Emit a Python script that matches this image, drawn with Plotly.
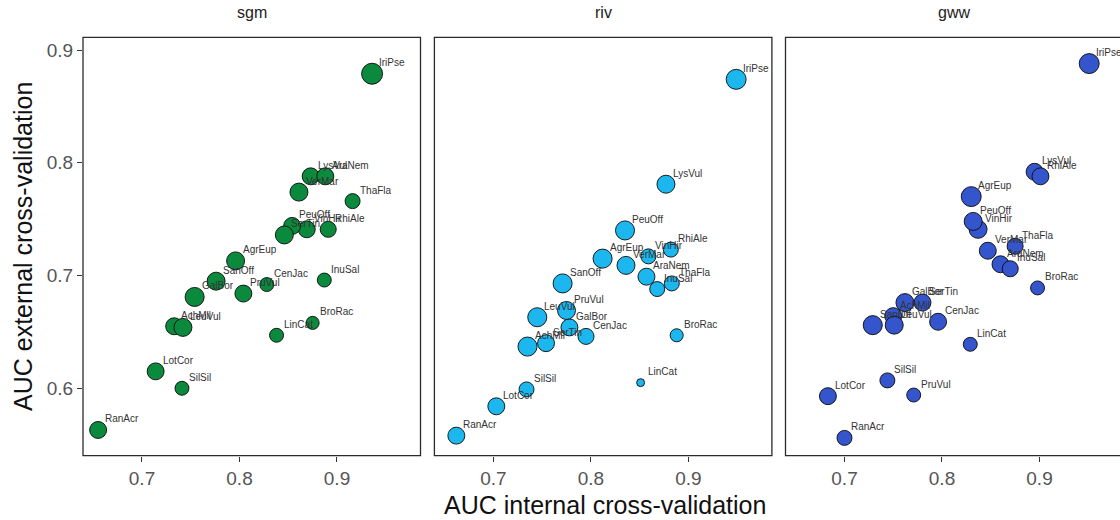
import plotly.graph_objects as go

# ---- data -------------------------------------------------------------
species = ["IriPse", "LysVul", "AraNem", "RhiAle", "VinHir", "PeuOff", "VerMar",
           "ThaFla", "AgrEup", "InuSal", "SanOff", "SerTin", "GalBor", "PruVul",
           "CenJac", "AchMil", "LeuVul", "BroRac", "LinCat", "LotCor", "SilSil",
           "RanAcr"]

regions = ["sgm", "riv", "gww"]

# AUC from internal cross-validation (x) per region
auc_int_sgm = [0.936, 0.873, 0.888, 0.891, 0.869, 0.854, 0.861, 0.916, 0.796, 0.887, 0.776,
               0.846, 0.754, 0.804, 0.828, 0.733, 0.742, 0.875, 0.838, 0.714, 0.741, 0.655]
auc_int_riv = [0.949, 0.877, 0.857, 0.882, 0.859, 0.835, 0.836, 0.883, 0.812, 0.868, 0.771,
               0.754, 0.778, 0.775, 0.795, 0.735, 0.745, 0.888, 0.851, 0.703, 0.734, 0.662]
auc_int_gww = [0.951, 0.895, 0.860, 0.901, 0.837, 0.832, 0.847, 0.875, 0.830, 0.870, 0.729,
               0.780, 0.762, 0.771, 0.796, 0.750, 0.751, 0.898, 0.829, 0.683, 0.744, 0.700]

# AUC from external cross-validation (y) per region
auc_ext_sgm = [0.879, 0.788, 0.788, 0.741, 0.741, 0.744, 0.774, 0.766, 0.713, 0.696, 0.695,
               0.736, 0.681, 0.684, 0.692, 0.655, 0.654, 0.658, 0.647, 0.615, 0.600, 0.563]
auc_ext_riv = [0.874, 0.781, 0.699, 0.723, 0.717, 0.740, 0.709, 0.693, 0.715, 0.688, 0.693,
               0.640, 0.654, 0.669, 0.646, 0.637, 0.663, 0.647, 0.605, 0.584, 0.599, 0.558]
auc_ext_gww = [0.888, 0.792, 0.710, 0.788, 0.741, 0.748, 0.722, 0.726, 0.770, 0.706, 0.656,
               0.676, 0.676, 0.594, 0.659, 0.664, 0.656, 0.689, 0.639, 0.593, 0.607, 0.556]

# relative weight of each species model (mapped to point size)
weight_sgm = [1.00, 0.73, 0.73, 0.67, 0.73, 0.73, 0.80, 0.60, 0.80, 0.53, 0.80,
              0.80, 0.87, 0.73, 0.53, 0.73, 0.80, 0.47, 0.53, 0.73, 0.53, 0.73]
weight_riv = [0.93, 0.80, 0.73, 0.60, 0.60, 0.87, 0.80, 0.60, 0.87, 0.60, 0.87,
              0.73, 0.73, 0.80, 0.67, 0.87, 0.87, 0.47, 0.13, 0.73, 0.60, 0.73]
weight_gww = [0.93, 0.73, 0.73, 0.73, 0.80, 0.80, 0.73, 0.67, 0.93, 0.67, 0.87,
              0.73, 0.80, 0.53, 0.73, 0.73, 0.80, 0.53, 0.53, 0.73, 0.60, 0.60]

x_ticks = [0.7, 0.8, 0.9]
y_ticks = [0.6, 0.7, 0.8, 0.9]

# ---- styling / layout geometry ---------------------------------------
W, H = 1120, 520
FONT = "Liberation Sans, Arial, sans-serif"
fills = {"sgm": "#0b893d", "riv": "#1bb7ee", "gww": "#3455cb"}

panel_left = [83.0, 434.4, 785.5]   # px
panel_width = 337.5                # px
panel_top, panel_bottom = 37.3, 455.7
x_lo, px_per_unit = 0.6395, 975.0
y_range = [0.5402, 0.9113]

series = {
    "sgm": (auc_int_sgm, auc_ext_sgm, weight_sgm),
    "riv": (auc_int_riv, auc_ext_riv, weight_riv),
    "gww": (auc_int_gww, auc_ext_gww, weight_gww),
}


def diameter(w):
    return 6 + 15 * w


fig = go.Figure()
annotations = []
shapes = []

for i, reg in enumerate(regions):
    xs, ys, ws = series[reg]
    k = "" if i == 0 else str(i + 1)
    left = panel_left[i]
    right = left + panel_width
    vis_right = min(right, W)
    x_hi = x_lo + (vis_right - left) / px_per_unit

    fig.add_trace(go.Scatter(
        x=xs, y=ys, mode="markers", xaxis="x" + k, yaxis="y" + k,
        marker=dict(size=[diameter(w) for w in ws], color=fills[reg],
                    line=dict(color="rgba(10,10,10,0.9)", width=1), opacity=1),
        text=species, hoverinfo="text+x+y", showlegend=False,
    ))

    fig.update_layout(**{
        "xaxis" + k: dict(
            domain=[left / W, vis_right / W], range=[x_lo, x_hi], anchor="y" + k,
            tickvals=x_ticks, ticktext=[f"{v:.1f}" for v in x_ticks],
            ticks="outside", ticklen=5, tickwidth=1, tickcolor="#333333",
            tickfont=dict(family=FONT, size=19, color="#555555"),
            showgrid=False, zeroline=False, showline=False, fixedrange=True,
        ),
        "yaxis" + k: dict(
            domain=[1 - panel_bottom / H, 1 - panel_top / H], range=y_range,
            anchor="x" + k,
            tickvals=y_ticks if i == 0 else [],
            ticktext=[f"{v:.1f}" for v in y_ticks] if i == 0 else [],
            ticks="outside" if i == 0 else "", ticklen=5, tickwidth=1,
            tickcolor="#333333", showticklabels=(i == 0),
            tickfont=dict(family=FONT, size=19, color="#555555"),
            showgrid=False, zeroline=False, showline=False, fixedrange=True,
        ),
    })

    # panel frame (the last panel runs past the right edge of the canvas)
    shapes.append(dict(type="rect", xref="paper", yref="paper",
                       x0=left / W, x1=right / W,
                       y0=1 - panel_bottom / H, y1=1 - panel_top / H,
                       line=dict(color="#2b2b2b", width=1.3), layer="above"))

    # facet strip title
    annotations.append(dict(text=reg, xref="paper", yref="paper",
                            x=(left + right) / 2 / W, y=1 - 12 / H,
                            showarrow=False, xanchor="center", yanchor="middle",
                            font=dict(family=FONT, size=16, color="#222222")))

    # species labels next to each point
    for name, xv, yv in zip(species, xs, ys):
        annotations.append(dict(text=name, x=xv, y=yv, xref="x" + k, yref="y" + k,
                                showarrow=False, xanchor="left", yanchor="middle",
                                xshift=5, yshift=11,
                                font=dict(family=FONT, size=10, color="#333333")))

# axis titles
annotations.append(dict(text="AUC internal cross-validation", xref="paper", yref="paper",
                        x=605 / W, y=1 - 505 / H, showarrow=False,
                        xanchor="center", yanchor="middle",
                        font=dict(family=FONT, size=25, color="#111111")))
annotations.append(dict(text="AUC external cross-validation", xref="paper", yref="paper",
                        x=23 / W, y=1 - 247 / H, showarrow=False, textangle=-90,
                        xanchor="center", yanchor="middle",
                        font=dict(family=FONT, size=25, color="#111111")))

fig.update_layout(
    width=W, height=H,
    margin=dict(l=0, r=0, t=0, b=0),
    paper_bgcolor="white", plot_bgcolor="white",
    annotations=annotations, shapes=shapes,
    showlegend=False,
)

fig.write_html("out.html", include_plotlyjs=True, config={"displayModeBar": False})
